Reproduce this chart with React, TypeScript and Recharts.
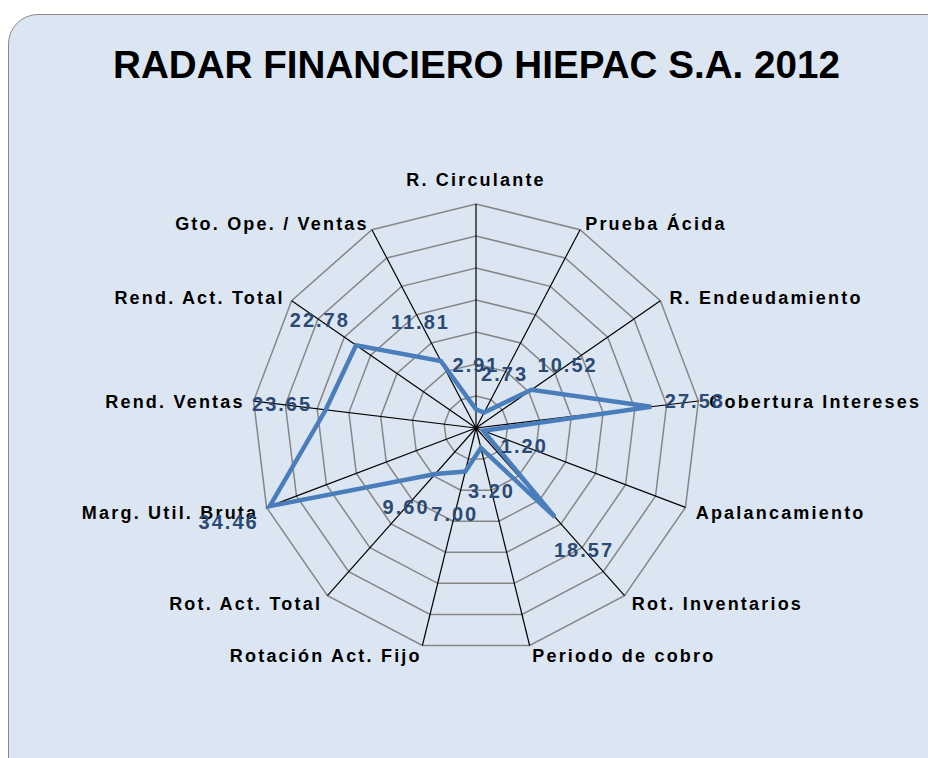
import React from 'react';
import {
  RadarChart,
  Radar,
  PolarGrid,
  PolarAngleAxis,
  PolarRadiusAxis,
} from 'recharts';

// Indicadores financieros (sentido horario desde arriba)
const indicators = [
  'R. Circulante',
  'Prueba Ácida',
  'R. Endeudamiento',
  'Cobertura Intereses',
  'Apalancamiento',
  'Rot. Inventarios',
  'Periodo de cobro',
  'Rotación Act. Fijo',
  'Rot. Act. Total',
  'Marg. Util. Bruta',
  'Rend. Ventas',
  'Rend. Act. Total',
  'Gto. Ope. /  Ventas',
];

const values2012 = [2.91, 2.73, 10.52, 27.58, 1.2, 18.57, 3.2, 7.0, 9.6, 34.46, 23.65, 22.78, 11.81];

const radiusDomain = [0, 35];

const data = indicators.map((name, i) => ({ name, value: values2012[i] }));

const CX = 476;
const CY = 428;
const OUTER = 224;
const FONT = '"Liberation Sans", Arial, sans-serif';

// category labels just outside the outer polygon
const renderAxisTick = (props: any) => {
  const { x, y, payload } = props;
  const dx = x - CX;
  const dy = y - CY;
  const r = Math.hypot(dx, dy) || 1;
  const s = dx / r;
  const c = -dy / r;
  // polygon vertex for this axis
  const vx = CX + OUTER * s;
  const vy = CY - OUTER * c;
  let anchor = 'start';
  let tx = vx;
  let ty = vy;
  if (Math.abs(s) < 0.05) {
    anchor = 'middle';
    ty = c > 0 ? vy - 24 : vy + 24;
  } else {
    anchor = s > 0 ? 'start' : 'end';
    tx = s > 0 ? vx + 11 * s : vx + 11 * s + 2;
    ty = vy + 2 - 9 * c;
  }
  return (
    <text
      x={tx}
      y={ty}
      textAnchor={anchor}
      dominantBaseline="central"
      fontFamily={FONT}
      fontWeight="bold"
      fontSize={18}
      letterSpacing={2.2}
      fill="#000"
    >
      {payload.value}
    </text>
  );
};

// value labels placed outward from each point
const renderValueLabel = (props: any) => {
  const { cx, cy, index, payload } = props;
  const dx = cx - CX;
  const dy = cy - CY;
  const r = Math.hypot(dx, dy) || 1;
  const dist = 44;
  const v = payload && typeof payload.value === 'number' ? payload.value : values2012[index];
  return (
    <text
      key={`lbl-${index}`}
      x={cx + (dx / r) * dist}
      y={cy + (dy / r) * dist}
      textAnchor="middle"
      dominantBaseline="central"
      fontFamily={FONT}
      fontWeight="bold"
      fontSize={20}
      letterSpacing={2}
      fill="#2b4a74"
    >
      {v.toFixed(2)}
    </text>
  );
};

export default function App() {
  return (
    <div
      style={{
        position: 'absolute',
        left: 0,
        top: 0,
        width: 928,
        height: 758,
        overflow: 'hidden',
        background: '#fff',
      }}
    >
      {/* chart area panel */}
      <div
        style={{
          position: 'absolute',
          left: 8,
          top: 14,
          width: 990,
          height: 780,
          borderRadius: 30,
          border: '1.5px solid #8a8a8a',
          background: '#dce6f2',
          boxSizing: 'border-box',
        }}
      />

      {/* Title */}
      <svg width={928} height={758} style={{ position: 'absolute', left: 0, top: 0 }}>
        <text
          x={476.5}
          y={78}
          textAnchor="middle"
          fontFamily={FONT}
          fontWeight="bold"
          fontSize={39}
          textLength={727}
          lengthAdjust="spacingAndGlyphs"
          fill="#000"
        >
          RADAR FINANCIERO HIEPAC S.A.  2012
        </text>
      </svg>

      <div style={{ position: 'absolute', left: 0, top: 0 }}>
        <RadarChart
          width={928}
          height={758}
          data={data}
          cx={CX}
          cy={CY}
          outerRadius={OUTER}
          margin={{ top: 0, right: 0, bottom: 0, left: 0 }}
        >
          {/* Rings */}
          <PolarGrid gridType="polygon" radialLines={false} stroke="#868686" strokeWidth={1.5} />
          {/* Spokes */}
          <PolarGrid gridType="polygon" polarRadius={[]} stroke="#000" strokeWidth={1.2} />

          <PolarAngleAxis
            dataKey="name"
            tick={renderAxisTick}
            tickLine={false}
            axisLine={false}
          />
          <PolarRadiusAxis
            angle={90}
            domain={radiusDomain}
            tickCount={8}
            tick={false}
            axisLine={false}
          />

          <Radar
            dataKey="value"
            stroke="#4a7ebb"
            strokeWidth={4.5}
            fill="none"
            fillOpacity={0}
            dot={renderValueLabel}
            isAnimationActive={false}
          />
        </RadarChart>
      </div>
    </div>
  );
}
